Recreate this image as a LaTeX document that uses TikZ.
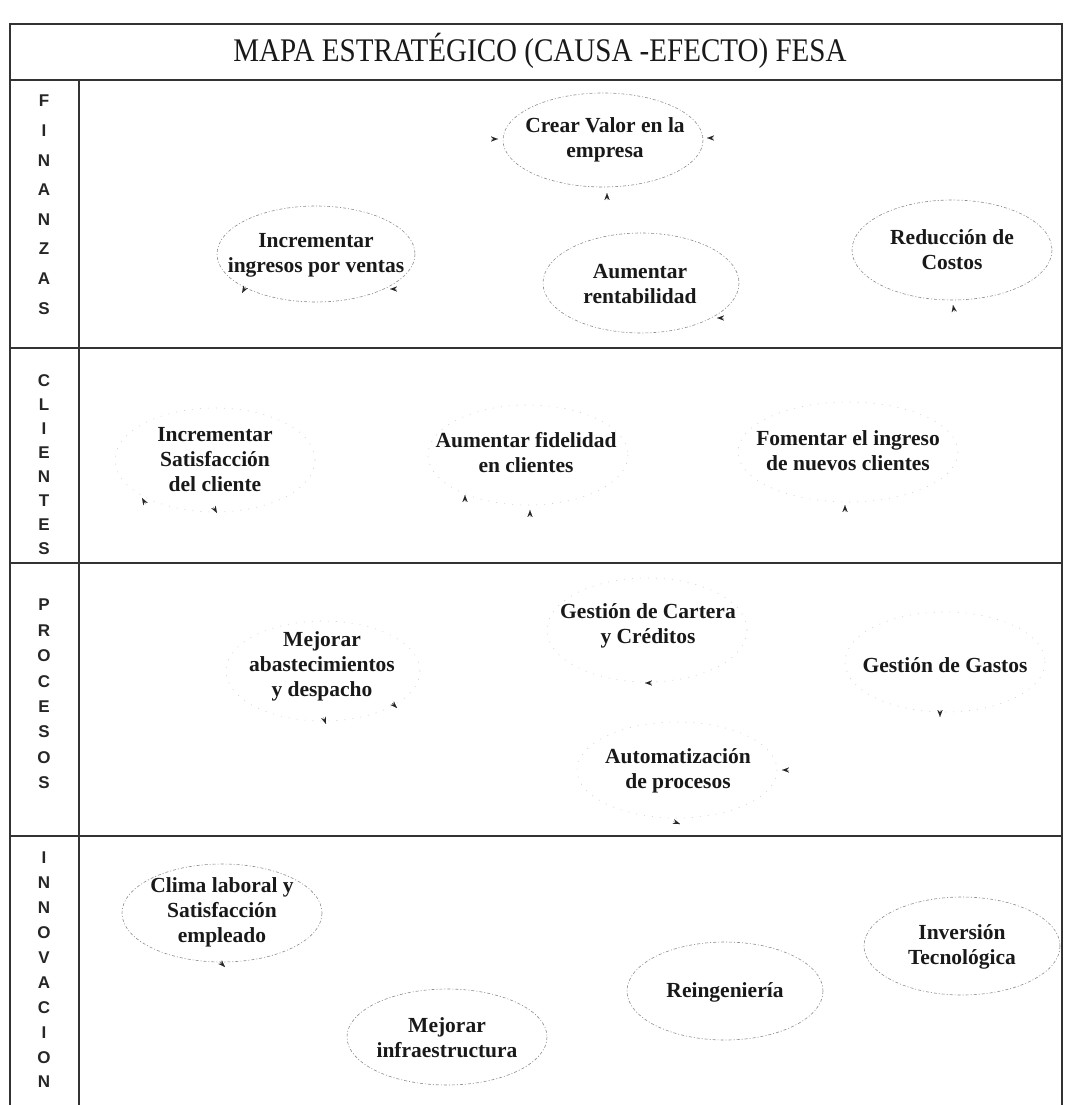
\documentclass[tikz,border=0pt]{standalone}
\usepackage{fontspec}
\setmainfont{Liberation Serif}
\newfontfamily\lettersfont{Liberation Sans}
\usetikzlibrary{arrows.meta}
\begin{document}
\begin{tikzpicture}[x=1pt,y=-1pt,
  frame/.style={draw=black!80, line width=1.1pt},
  goal/.style={font=\fontsize{21.5}{25}\selectfont\bfseries, text=black!90, align=center, inner sep=0pt},
  ring/.style={draw=black!45, line width=0.6pt, dash pattern=on 3pt off 2pt on 1pt off 2pt},
  faint/.style={draw=black!18, line width=0.6pt, dash pattern=on 1pt off 7pt},
  tipmark/.style={-{Stealth[length=7pt,width=5pt]}, line width=0.01pt, draw=black!85, fill=black!85},
  letter/.style={font=\fontsize{17}{17}\selectfont\lettersfont\bfseries, text=black!85, inner sep=0pt}
]
\useasboundingbox (0,0) rectangle (1067,1105);

% table frame
\draw[frame] (10,1105) -- (10,24) -- (1062,24) -- (1062,1105);
\draw[frame] (10,80) -- (1062,80);
\draw[frame] (10,348) -- (1062,348);
\draw[frame] (10,563) -- (1062,563);
\draw[frame] (10,836) -- (1062,836);
\draw[frame] (79,80) -- (79,1105);

\node[font=\fontsize{33}{36}\selectfont, text=black!90, xscale=0.88, transform shape] (title) at (540,51) {MAPA ESTRATÉGICO (CAUSA -EFECTO) FESA};

% perspective labels, one letter per line
\foreach \c [count=\i] in {F,I,N,A,N,Z,A,S}
  \node[letter] (fin\i) at (44,{101+(\i-1)*29.6}) {\c};
\foreach \c [count=\i] in {C,L,I,E,N,T,E,S}
  \node[letter] (cli\i) at (44,{381+(\i-1)*24}) {\c};
\foreach \c [count=\i] in {P,R,O,C,E,S,O,S}
  \node[letter] (pro\i) at (44,{605+(\i-1)*25.4}) {\c};
\foreach \c [count=\i] in {I,N,N,O,V,A,C,I,O,N}
  \node[letter] (inn\i) at (44,{858+(\i-1)*24.9}) {\c};

% finanzas
\draw[ring] (603,140) ellipse [x radius=100, y radius=47];
\node[goal] (valor) at (605,140) {Crear Valor en la\\empresa};
\draw[ring] (316,254) ellipse [x radius=99, y radius=48];
\node[goal] (ingresos) at (316,255) {Incrementar\\ingresos por ventas};
\draw[ring] (641,283) ellipse [x radius=98, y radius=50];
\node[goal] (rentab) at (640,284) {Aumentar\\rentabilidad};
\draw[ring] (952,250) ellipse [x radius=100, y radius=50];
\node[goal] (costos) at (952,250) {Reducción de\\Costos};

% clientes
\draw[faint] (215,460) ellipse [x radius=100, y radius=52];
\node[goal] (satisf) at (215,460) {Incrementar\\Satisfacción\\del cliente};
\draw[faint] (528,455) ellipse [x radius=100, y radius=50];
\node[goal] (fidel) at (526,453) {Aumentar fidelidad\\en clientes};
\draw[faint] (848,452) ellipse [x radius=110, y radius=50];
\node[goal] (nuevos) at (848,451) {Fomentar el ingreso\\de nuevos clientes};

% procesos
\draw[faint] (323,671) ellipse [x radius=97, y radius=50];
\node[goal] (abast) at (322,666) {Mejorar\\abastecimientos\\y despacho};
\draw[faint] (647,630) ellipse [x radius=100, y radius=52];
\node[goal] (cartera) at (648,626) {Gestión de Cartera\\y Créditos};
\draw[faint] (945,662) ellipse [x radius=100, y radius=50];
\node[goal] (gastos) at (945,665) {Gestión de Gastos};
\draw[faint] (677,770) ellipse [x radius=100, y radius=48];
\node[goal] (autom) at (678,771) {Automatización\\de procesos};

% innovacion
\draw[ring] (222,913) ellipse [x radius=100, y radius=49];
\node[goal] (clima) at (222,912) {Clima laboral y\\Satisfacción\\empleado};
\draw[ring] (447,1037) ellipse [x radius=100, y radius=48];
\node[goal] (infra) at (447,1038) {Mejorar\\infraestructura};
\draw[ring] (725,991) ellipse [x radius=98, y radius=49];
\node[goal] (reing) at (725,992) {Reingeniería};
\draw[ring] (962,946) ellipse [x radius=98, y radius=49];
\node[goal] (invers) at (962,947) {Inversión\\Tecnológica};

% arrow tips left where the cause-effect links end
\foreach \x/\y/\a in {498/139/0, 707/138/180, 607/193/-90,
                      242/293/120, 390/289/180, 717/318/180, 953/305/-100,
                      142/498/-120, 217/513/60, 465/495/-90, 530/510/-90, 845/505/-90,
                      397/708/45, 326/724/70, 645/683/180, 940/717/90,
                      782/770/180, 680/824/20, 225/967/45}
  \draw[tipmark, shift={(\x,\y)}] (\a+180:7) -- (0,0);
\end{tikzpicture}
\end{document}
